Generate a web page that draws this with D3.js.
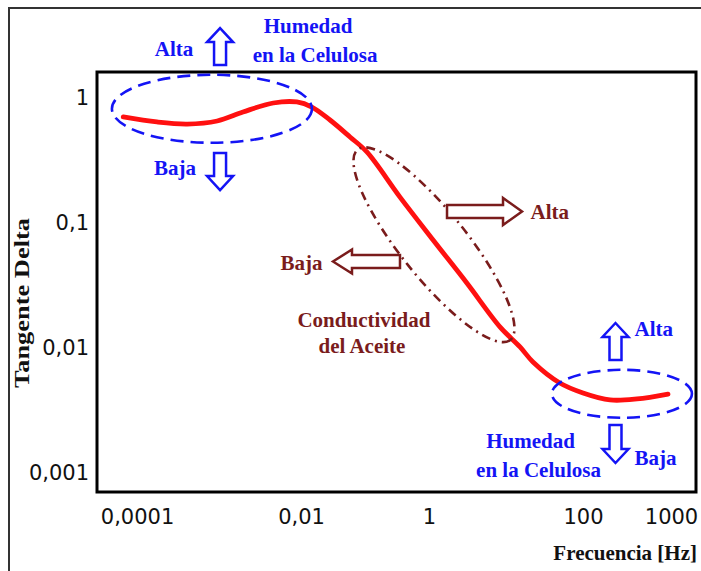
<!DOCTYPE html>
<html>
<head>
<meta charset="utf-8">
<script src="https://cdn.jsdelivr.net/npm/d3@7"></script>
<style>
  body { margin: 0; background: #fff; }
  .note { font-family: "Liberation Serif", "Times New Roman", serif; font-weight: bold; font-size: 21px; }
  .tick text { font-family: "DejaVu Sans", Verdana, sans-serif; font-size: 21px; fill: #111; }
</style>
</head>
<body>
<div id="chart"></div>
<script>
// tick values and their labels (comma decimals as in the picture)
var xTickValues = [0.0001, 0.01, 1, 100, 1000];
var xTickLabels = ["0,0001", "0,01", "1", "100", "1000"];
var yTickValues = [1, 0.1, 0.01, 0.001];
var yTickLabels = ["1", "0,1", "0,01", "0,001"];

// the tan delta curve
var frequency = [0.000068, 0.000175, 0.00041, 0.00095, 0.00196, 0.0046, 0.0089, 0.0148, 0.0284, 0.0583,
                 0.107, 0.352, 1.13, 3.1, 8.4, 15.2, 22.4, 50, 100, 203, 411, 925];
var tanDelta  = [0.705, 0.643, 0.619, 0.655, 0.773, 0.912, 0.929, 0.847, 0.667, 0.488,
                 0.370, 0.161, 0.0731, 0.0331, 0.0147, 0.0102, 0.00773, 0.00525, 0.00437, 0.00384, 0.00391, 0.00428];

var W = 701, H = 571;
var blue = "#1414f5", darkRed = "#7a1c1c", red = "#ff1010";

var svg = d3.select("#chart").append("svg")
  .attr("width", W)
  .attr("height", H);

// outer picture border
svg.append("rect")
  .attr("x", 9).attr("y", 8)
  .attr("width", 720).attr("height", 620)
  .attr("fill", "none")
  .attr("stroke", "#333")
  .attr("stroke-width", 2);

// the labels in the picture are not evenly spaced, so the log scale is piecewise
var x = d3.scaleLog()
  .domain(xTickValues)
  .range([137, 301, 429, 583, 671]);

var y = d3.scaleLog()
  .domain([0.001, 1])
  .range([473, 98]);

// plot frame
svg.append("rect")
  .attr("x", 97).attr("y", 72)
  .attr("width", 599).attr("height", 420)
  .attr("fill", "none")
  .attr("stroke", "#000")
  .attr("stroke-width", 3);

svg.append("g")
  .attr("transform", "translate(0,509)")
  .call(d3.axisBottom(x).tickValues(xTickValues)
    .tickFormat(function(d, i){ return xTickLabels[i]; })
    .tickSize(0).tickPadding(0))
  .call(function(g){ g.select(".domain").remove(); });

svg.append("g")
  .attr("transform", "translate(89,0)")
  .call(d3.axisLeft(y).tickValues(yTickValues)
    .tickFormat(function(d, i){ return yTickLabels[i]; })
    .tickSize(0).tickPadding(0))
  .call(function(g){ g.select(".domain").remove(); });

// axis titles
svg.append("text")
  .attr("class", "note")
  .attr("transform", "translate(29,303) rotate(-90)")
  .attr("text-anchor", "middle")
  .attr("font-size", 20)
  .attr("textLength", 170)
  .attr("lengthAdjust", "spacingAndGlyphs")
  .attr("fill", "#111")
  .text("Tangente Delta");

svg.append("text")
  .attr("class", "note")
  .attr("x", 697).attr("y", 560)
  .attr("text-anchor", "end")
  .attr("fill", "#111")
  .text("Frecuencia [Hz]");

// curve
var data = frequency.map(function(f, i){ return {f: f, t: tanDelta[i]}; });

var line = d3.line()
  .x(function(d){ return x(d.f); })
  .y(function(d){ return y(d.t); })
  .curve(d3.curveCatmullRom);

svg.append("path")
  .datum(data)
  .attr("fill", "none")
  .attr("stroke", red)
  .attr("stroke-width", 4.8)
  .attr("stroke-linecap", "round")
  .attr("d", line);

// ellipses, anchored in data units
function ellipse(f, t, rx, ry, angle, color, dash){
  svg.append("ellipse")
    .attr("transform", "translate(" + x(f) + "," + y(t) + ") rotate(" + angle + ")")
    .attr("rx", rx).attr("ry", ry)
    .attr("fill", "none")
    .attr("stroke", color)
    .attr("stroke-width", 2.6)
    .attr("stroke-dasharray", dash);
}
ellipse(0.00082, 0.82, 100, 34, 0, blue, "13,7");
ellipse(277, 0.0043, 70, 24, 0, blue, "13,7");
ellipse(1.16, 0.067, 122, 33, 51.3, darkRed, "9,5,2,5");

// hollow block arrows, local shape points along +x then rotated
function arrow(f, t, len, angle, color, sw, hw, hl){
  var cx = x(f), cy = y(t), h = len / 2;
  var pts = [[h, 0], [h - hl, -hw], [h - hl, -sw], [-h, -sw], [-h, sw], [h - hl, sw], [h - hl, hw]];
  svg.append("polygon")
    .attr("transform", "translate(" + cx + "," + cy + ") rotate(" + angle + ")")
    .attr("points", pts.map(function(p){ return p.join(","); }).join(" "))
    .attr("fill", "#fff")
    .attr("stroke", color)
    .attr("stroke-width", 2.5)
    .attr("stroke-linejoin", "miter");
  return [cx, cy];
}

function note(px, py, str, color, anchor){
  svg.append("text")
    .attr("class", "note")
    .attr("x", px).attr("y", py)
    .attr("text-anchor", anchor || "middle")
    .attr("fill", color)
    .text(str);
}

// cellulose moisture, low frequency end
var a1 = arrow(0.00103, 2.58, 37, -90, blue, 6, 13, 14);
var a2 = arrow(0.00103, 0.258, 37, 90, blue, 6, 13, 14);
note(a1[0] - 46, a1[1] + 9, "Alta", blue);
note(a1[0] + 88, a1[1] - 14, "Humedad", blue);
note(a1[0] + 95, a1[1] + 15, "en la Celulosa", blue);
note(a2[0] - 45, a2[1] + 3, "Baja", blue);

// oil conductivity
var a3 = arrow(5.26, 0.1236, 75, 0, darkRed, 6.5, 13.5, 19);
var a4 = arrow(0.1055, 0.0492, 67, 180, darkRed, 6.5, 12, 19);
note(a3[0] + 46, a3[1] + 8, "Alta", darkRed, "start");
note(a4[0] - 44, a4[1] + 8, "Baja", darkRed, "end");
note(x(1.16) - 70, y(0.067) + 82, "Conductividad", darkRed);
note(x(1.16) - 72, y(0.067) + 108, "del Aceite", darkRed);

// cellulose moisture, high frequency end
var a5 = arrow(234, 0.01127, 37, -90, blue, 6, 13, 14);
var a6 = arrow(234, 0.001706, 38, 90, blue, 6, 13, 14);
note(a5[0] + 19, a5[1] - 6, "Alta", blue, "start");
note(a6[0] + 19, a6[1] + 21, "Baja", blue, "start");
note(a6[0] - 85, a6[1] + 4, "Humedad", blue);
note(a6[0] - 77, a6[1] + 33, "en la Celulosa", blue);
</script>
</body>
</html>
